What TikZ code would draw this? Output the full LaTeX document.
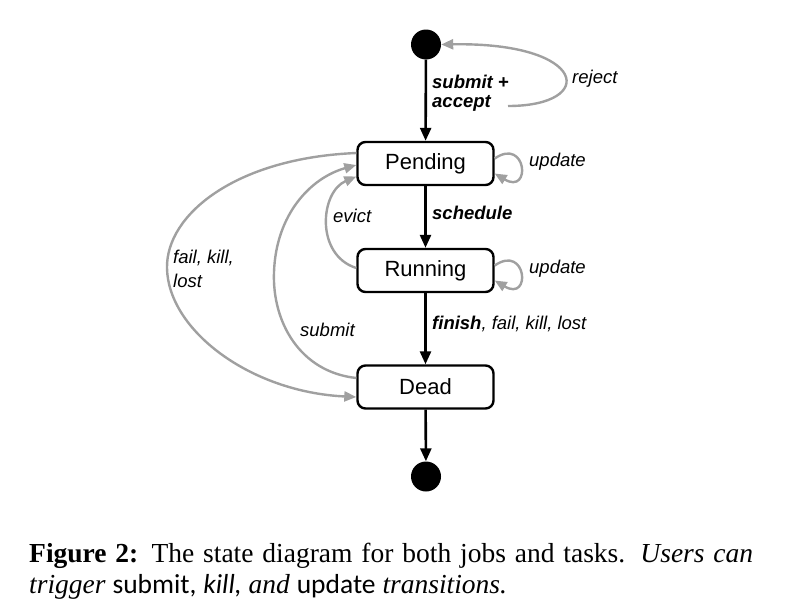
\documentclass[tikz,border=0pt]{standalone}
\usepackage{fontspec}
\setmainfont{Liberation Serif}
\newfontfamily\arialf{Liberation Sans}
\newfontfamily\calibf{Carlito}
\usetikzlibrary{arrows.meta}
\definecolor{arrgray}{RGB}{160,160,160}
\tikzset{
  statebox/.style={draw=black, line width=2.4pt, rounded corners=8pt, minimum width=136pt, minimum height=43pt, inner sep=0pt, font=\arialf\fontsize{22}{26}\selectfont},
  pseudo/.style={circle, fill=black, minimum size=30pt, inner sep=0pt},
  blackarr/.style={draw=black, line width=2.6pt, -{Triangle[length=13pt,width=11pt]}},
  grayarr/.style={draw=arrgray, line width=2.4pt, -{Triangle[length=12pt,width=10pt]}},
  lbl/.style={inner sep=0pt, font=\arialf\itshape\fontsize{18.5}{21}\selectfont},
  blbl/.style={inner sep=0pt, font=\arialf\bfseries\itshape\fontsize{18.5}{21}\selectfont}
}
\begin{document}
\begin{tikzpicture}[x=1pt,y=-1pt]
\useasboundingbox (0,0) rectangle (801,613);
% states
\node[pseudo] (init) at (426,44.5) {};
\node[statebox] (pend) at (425.5,163.5) {Pending};
\node[statebox] (run) at (425.5,270.5) {Running};
\node[statebox] (dead) at (425.5,387) {Dead};
\node[pseudo] (fin) at (426,476.5) {};
% black transitions
\draw[blackarr] (init) -- (pend);
\draw[blackarr] (pend) -- (run);
\draw[blackarr] (run) -- (dead);
\draw[blackarr] (dead) -- (fin);
% labels of black transitions
\node[blbl, anchor=base west] (lsub) at (432,88) {submit +};
\node[blbl, anchor=base west] (lacc) at (432,107.5) {accept};
\node[blbl, anchor=base west] (lsch) at (432,219) {schedule};
\node[lbl, anchor=base west] (lfin) at (432,329) {\bfseries finish\mdseries, fail, kill, lost};
% reject
\coordinate (rejstart) at (508,106);
\draw[grayarr] (rejstart) .. controls (598,106) and (588,42) .. (init.east);
\node[lbl, anchor=base west] (lrej) at (572,83) {reject};
% update loops
\draw[grayarr] ([yshift=5pt]pend.east) .. controls +(32,-22) and +(37,22) .. ([yshift=-10pt]pend.east);
\node[lbl, anchor=base west] (lup1) at (529,166) {update};
\draw[grayarr] ([yshift=5pt]run.east) .. controls +(32,-22) and +(37,22) .. ([yshift=-10pt]run.east);
\node[lbl, anchor=base west] (lup2) at (529,273) {update};
% evict
\draw[grayarr] ([yshift=2.5pt]run.west) .. controls (315,255) and (320,192) .. ([yshift=-13pt]pend.west);
\node[lbl, anchor=base west] (lev) at (333,222) {evict};
% submit (dead -> pending)
\draw[grayarr] ([yshift=9pt]dead.west) .. controls (300,372) and (272,322) .. (274,272) .. controls (276,215) and (310,178) .. ([yshift=-1.5pt]pend.west);
\node[lbl, anchor=base west] (lsub2) at (300,336) {submit};
% fail, kill, lost (pending -> dead)
\draw[grayarr] ([yshift=10.5pt]pend.west) .. controls (235,158) and (166,215) .. (167,268) .. controls (168,330) and (250,392) .. ([yshift=-10pt]dead.west);
\node[lbl, anchor=base west] (lfk) at (173,263) {fail, kill,};
\node[lbl, anchor=base west] (llost) at (173,287) {lost};
% caption
\node[anchor=base west, inner sep=0pt, text width=724pt, align=justify, font=\fontsize{27.5}{31.5}\selectfont] (cap) at (29,562)
{{\bfseries Figure 2:} The state diagram for both jobs and tasks. \textit{Users can trigger} {\calibf submit,} {\calibf\itshape kill,} \textit{and} {\calibf update} \textit{transitions.}};
\end{tikzpicture}
\end{document}
